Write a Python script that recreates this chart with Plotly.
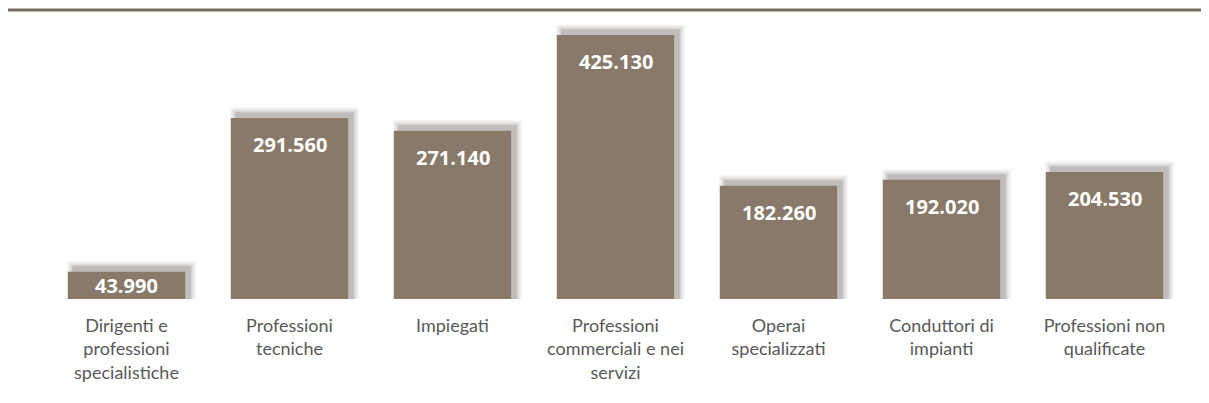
import plotly.graph_objects as go

categories = [
    "Dirigenti e<br>professioni<br>specialistiche",
    "Professioni<br>tecniche",
    "Impiegati",
    "Professioni<br>commerciali e nei<br>servizi",
    "Operai<br>specializzati",
    "Conduttori di<br>impianti",
    "Professioni non<br>qualificate",
]
values = [43990, 291560, 271140, 425130, 182260, 192020, 204530]
value_labels = ["43.990", "291.560", "271.140", "425.130", "182.260", "192.020", "204.530"]

W, H = 1209, 403
PAGE = 8  # default page body margin
left, right = 45 - PAGE, 23 + PAGE
top, bottom = 25 - PAGE, 104 + PAGE
plot_h = H - top - bottom
plot_w = W - left - right
max_px = 264  # pixel height of the tallest bar
yr_max = max(values) * plot_h / max_px
unit_per_px = yr_max / plot_h
cat_px = plot_w / len(categories)

bar_w = 0.72
fig = go.Figure()

# soft shadow layers
for grow, alpha in [(12, 0.04), (9, 0.05), (6, 0.06), (3, 0.08), (1, 0.10)]:
    dx = 5 / cat_px
    gw = grow / cat_px
    fig.add_trace(go.Bar(
        x=categories,
        y=[v + (5 + grow / 2) * unit_per_px for v in values],
        width=bar_w + gw,
        offset=-bar_w / 2 + dx - gw / 2,
        marker=dict(color=f"rgba(40,30,20,{alpha})", line=dict(width=0)),
        hoverinfo="skip",
        showlegend=False,
    ))

fig.add_trace(go.Bar(
    x=categories,
    y=values,
    width=bar_w,
    offset=-bar_w / 2,
    marker=dict(color="#887968", line=dict(width=0)),
    showlegend=False,
))

for c, v, lab in zip(categories, values, value_labels):
    if v / unit_per_px < 45:
        fig.add_annotation(x=c, y=v / 2, text=f"<b>{lab}</b>", showarrow=False,
                           yanchor="middle", font=dict(family="Open Sans", size=20, color="white"))
    else:
        fig.add_annotation(x=c, y=v, text=f"<b>{lab}</b>", showarrow=False,
                           yanchor="top", yshift=-11,
                           font=dict(family="Open Sans", size=20, color="white"))

# top rule
line_y = 1 + (top - 2) / plot_h
fig.add_shape(type="line", xref="paper", yref="paper",
              x0=-left / plot_w, x1=(W - left) / plot_w,
              y0=line_y, y1=line_y, line=dict(color="#766a5b", width=3))

fig.update_layout(
    width=W, height=H,
    margin=dict(l=left, r=right, t=top, b=bottom),
    paper_bgcolor="white", plot_bgcolor="white",
    barmode="overlay",
    font=dict(family="Lato", size=18, color="#595959"),
)
fig.update_xaxes(showline=False, ticks="", showgrid=False,
                 tickfont=dict(family="Lato", size=18, color="#595959"),
                 ticklabelstandoff=14)
fig.update_yaxes(visible=False, range=[0, yr_max], showgrid=False)

fig.write_html("out.html")
